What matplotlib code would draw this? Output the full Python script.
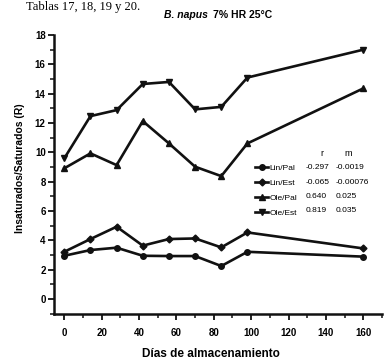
import matplotlib
matplotlib.use("Agg")
import matplotlib.pyplot as plt
from matplotlib.ticker import MultipleLocator, FixedLocator

days = [0, 14, 28, 42, 56, 70, 84, 98, 160]
lin_pal = [2.95, 3.34, 3.50, 2.95, 2.93, 2.93, 2.25, 3.22, 2.89]
lin_est = [3.22, 4.09, 4.93, 3.64, 4.09, 4.13, 3.52, 4.54, 3.45]
ole_pal = [8.91, 9.93, 9.13, 12.13, 10.61, 9.02, 8.38, 10.61, 14.36]
ole_est = [9.59, 12.47, 12.88, 14.66, 14.80, 12.93, 13.10, 15.10, 17.00]
series_names = ["Lin/Pal", "Lin/Est", "Ole/Pal", "Ole/Est"]
r_vals = ["-0.297", "-0.065", "0.640", "0.819"]
m_vals = ["-0.0019", "-0.00076", "0.025", "0.035"]
x_ticks = [0, 20, 40, 60, 80, 100, 120, 140, 160]
y_ticks = [0, 2, 4, 6, 8, 10, 12, 14, 16, 18]

narrow = ["Liberation Sans Narrow", "Liberation Sans", "DejaVu Sans"]
sans = ["Liberation Sans", "DejaVu Sans"]
plt.rcParams["font.family"] = narrow

W, H = 387, 362
fig = plt.figure(figsize=(W / 100, H / 100), dpi=100)
fig.patch.set_facecolor("white")

def fx(px):
    return px / W

def fy(py):
    return 1 - py / H

ax = fig.add_axes([fx(54), fy(314), fx(382) - fx(54), fy(35) - fy(314)])
ax.set_xlim(-5.5, 170)
ax.set_ylim(-1.02, 18)

col = "#111111"
markers = ["o", "D", "^", "v"]
msizes = [4, 3.5, 4.5, 4.5]
data = [lin_pal, lin_est, ole_pal, ole_est]
handles = []
for vals, mk, ms, name in zip(data, markers, msizes, series_names):
    ln, = ax.plot(days, vals, color=col, lw=1.9, marker=mk, ms=ms,
                  mfc=col, mec=col, label=name, clip_on=False)
    handles.append(ln)

for s in ["top", "right"]:
    ax.spines[s].set_visible(False)
for s in ["left", "bottom"]:
    ax.spines[s].set_linewidth(1.8)
    ax.spines[s].set_color(col)

ax.xaxis.set_major_locator(FixedLocator(x_ticks))
ax.xaxis.set_minor_locator(FixedLocator([10, 30, 50, 70, 90, 110, 130, 150, 170]))
ax.yaxis.set_major_locator(FixedLocator(y_ticks))
ax.yaxis.set_minor_locator(MultipleLocator(1))
ax.tick_params(which="major", direction="out", length=4, width=1.3, color=col,
               labelsize=7, pad=6)
ax.tick_params(which="minor", direction="out", length=3, width=1.1, color=col)
ax.tick_params(axis="y", which="major", pad=2)
for lab in ax.get_xticklabels() + ax.get_yticklabels():
    lab.set_fontweight("bold")

fig.text(fx(211), fy(354), "Días de almacenamiento", fontsize=8.5,
         fontweight="bold", ha="center", va="center", family=sans)
fig.text(fx(20), fy(168), "Insaturados/Saturados (R)", fontsize=7.5,
         fontweight="bold", ha="center", va="center", rotation=90, family=sans)

fig.text(fx(208), fy(15), "B. napus", fontsize=7.5, fontweight="bold",
         style="italic", ha="right", va="center", family=sans)
fig.text(fx(213), fy(15), "7% HR 25°C", fontsize=7.5, fontweight="bold",
         ha="left", va="center", family=sans)

fig.text(fx(140), fy(10), "Tablas 17, 18, 19 y 20.", fontsize=9,
         ha="right", va="baseline", family=["Liberation Serif", "DejaVu Serif"])

leg = fig.legend(handles, series_names, loc="upper left",
                 bbox_to_anchor=(fx(255), fy(164)), frameon=False,
                 fontsize=6, handlelength=1.6, handletextpad=0.15,
                 labelspacing=0.85, borderpad=0, borderaxespad=0)

fig.text(fx(322), fy(154), "r", fontsize=6.5, ha="center", va="center")
fig.text(fx(348), fy(154), "m", fontsize=6.5, ha="center", va="center")
rows = [168, 182, 197, 211]
for yy, rv, mv in zip(rows, r_vals, m_vals):
    fig.text(fx(306), fy(yy), rv, fontsize=6, ha="left", va="center")
    fig.text(fx(336), fy(yy), mv, fontsize=6, ha="left", va="center")

fig.savefig("out.png", dpi=100, facecolor="white")
